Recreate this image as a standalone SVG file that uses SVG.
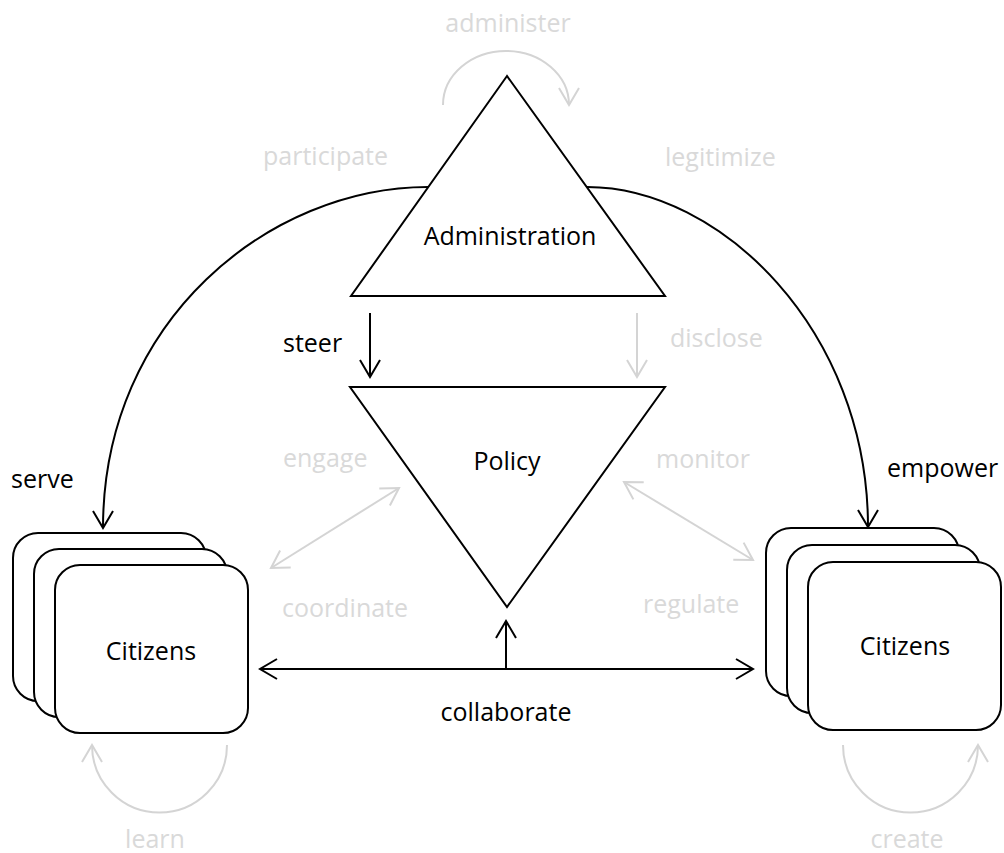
<svg xmlns="http://www.w3.org/2000/svg" width="1004" height="853" viewBox="0 0 1004 853">
<defs>
<style>
text{font-family:"Open Sans","Noto Sans","Liberation Sans",sans-serif;font-size:25px}
.dk{fill:#000}
.lt{fill:#d9d9d9}
.node{fill:#fff;stroke:#000;stroke-width:2}
.bl{fill:none;stroke:#000;stroke-width:2}
.gr{fill:none;stroke:#d4d4d4;stroke-width:2}
.mid{text-anchor:middle}
</style>
<marker id="ab" markerUnits="userSpaceOnUse" viewBox="-20 -12 22 24" refX="0" refY="0" markerWidth="22" markerHeight="24" orient="auto-start-reverse" overflow="visible">
<path d="M-17,-10 L0,0 L-17,10" fill="none" stroke="#000" stroke-width="2"/>
</marker>
<marker id="ag" markerUnits="userSpaceOnUse" viewBox="-20 -12 22 24" refX="0" refY="0" markerWidth="22" markerHeight="24" orient="auto-start-reverse" overflow="visible">
<path d="M-17,-10 L0,0 L-17,10" fill="none" stroke="#d4d4d4" stroke-width="2"/>
</marker>
</defs>
<rect width="1004" height="853" fill="#fff"/>
<g id="connectors">
<path class="bl" d="M428,187 C270,187 103,320 103,528" marker-end="url(#ab)"/>
<path class="bl" d="M587,187 C720,187 868,330 868,527" marker-end="url(#ab)"/>
<line class="bl" x1="370" y1="313" x2="370" y2="377" marker-end="url(#ab)"/>
<line class="gr" x1="637" y1="313" x2="637" y2="377" marker-end="url(#ag)"/>
<line class="gr" x1="271" y1="568" x2="399" y2="488" marker-start="url(#ag)" marker-end="url(#ag)"/>
<line class="gr" x1="624" y1="482" x2="753" y2="560" marker-start="url(#ag)" marker-end="url(#ag)"/>
<line class="bl" x1="260" y1="669" x2="753" y2="669" marker-start="url(#ab)" marker-end="url(#ab)"/>
<line class="bl" x1="506" y1="669" x2="506" y2="621" marker-end="url(#ab)"/>
<path class="gr" d="M443,105 A63,54 0 0 1 569,105" marker-end="url(#ag)"/>
<path class="gr" d="M227,745 A67.5,67.5 0 0 1 92,745" marker-end="url(#ag)"/>
<path class="gr" d="M843,745 A67.5,67.5 0 0 0 978,745" marker-end="url(#ag)"/>
</g>
<g id="administration">
<polygon class="node" points="507,76 351,296 665,296"/>
<text class="dk mid" x="510" y="245">Administration</text>
</g>
<g id="policy">
<polygon class="node" points="350,387 665,387 507,607"/>
<text class="dk mid" x="507" y="470">Policy</text>
</g>
<g id="citizens-left">
<rect class="node" x="13" y="533" width="193" height="168" rx="25"/>
<rect class="node" x="34" y="549" width="193" height="168" rx="25"/>
<rect class="node" x="55" y="565" width="193" height="168" rx="25"/>
<text class="dk mid" x="151" y="660">Citizens</text>
</g>
<g id="citizens-right">
<rect class="node" x="766" y="528" width="193" height="168" rx="25"/>
<rect class="node" x="787" y="545" width="193" height="168" rx="25"/>
<rect class="node" x="808" y="562" width="193" height="168" rx="25"/>
<text class="dk mid" x="905" y="655">Citizens</text>
</g>
<g id="labels">
<text class="lt mid" x="508" y="32">administer</text>
<text class="lt" x="263" y="165">participate</text>
<text class="lt" x="665" y="166">legitimize</text>
<text class="dk" x="283" y="352">steer</text>
<text class="lt" x="670" y="347">disclose</text>
<text class="lt" x="283" y="467">engage</text>
<text class="lt" x="656" y="468">monitor</text>
<text class="dk" x="11" y="488">serve</text>
<text class="dk" x="887" y="477">empower</text>
<text class="lt" x="282" y="617">coordinate</text>
<text class="lt" x="643" y="613">regulate</text>
<text class="dk mid" x="506" y="721">collaborate</text>
<text class="lt mid" x="155" y="848">learn</text>
<text class="lt mid" x="907" y="848">create</text>
</g>
</svg>
